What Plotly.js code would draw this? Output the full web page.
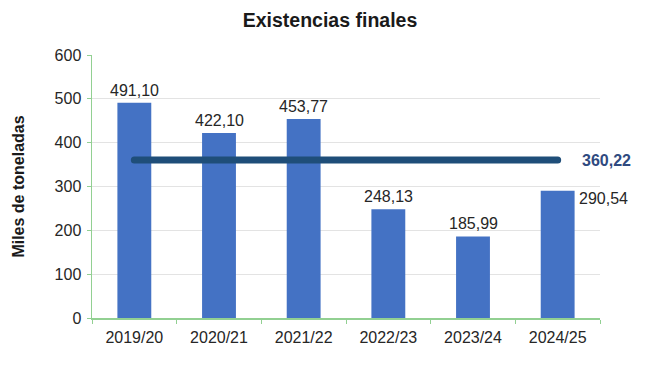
<!DOCTYPE html>
<html>
<head>
<meta charset="utf-8">
<script src="https://cdn.plot.ly/plotly-3.0.1.min.js"></script>
<style>html,body{margin:0;padding:0;background:#fff;}#chart{width:660px;height:365px;}
.scatterlayer .js-line{stroke-linecap:round !important;}</style>
</head>
<body>
<div id="chart"></div>
<script>
var categories = ["2019/20", "2020/21", "2021/22", "2022/23", "2023/24", "2024/25"];
var values = [491.10, 422.10, 453.77, 248.13, 185.99, 290.54];
var average = 360.22;
var yTicks = [0, 100, 200, 300, 400, 500, 600];

function fmt(v) { return v.toFixed(2).replace('.', ','); }

var FONT = 'Liberation Sans, Arial, sans-serif';

var bars = {
  type: 'bar',
  x: categories,
  y: values,
  marker: {color: '#4472c4'},
  width: 0.4,
  hoverinfo: 'x+y'
};

var avgLine = {
  type: 'scatter',
  mode: 'lines',
  x: [categories[0], categories[categories.length - 1]],
  y: [average, average],
  line: {color: '#1f4e79', width: 7},
  hoverinfo: 'y'
};

var annotations = values.map(function (v, i) {
  var last = i === values.length - 1;
  return {
    x: categories[i], y: v, xref: 'x', yref: 'y',
    text: fmt(v), showarrow: false,
    font: {family: FONT, size: 16, color: '#262626'},
    xanchor: last ? 'left' : 'center',
    yanchor: last ? 'middle' : 'bottom',
    xshift: last ? 19 : 0,
    yshift: last ? -8 : 2
  };
});
annotations.push({
  x: categories[categories.length - 1], y: average, xref: 'x', yref: 'y',
  text: '<b>' + fmt(average) + '</b>', showarrow: false,
  font: {family: FONT, size: 16, color: '#2f4a80'},
  xanchor: 'left', yanchor: 'middle', xshift: 22
});

var layout = {
  width: 660, height: 365,
  margin: {l: 92, r: 60, t: 55, b: 47},
  paper_bgcolor: '#ffffff', plot_bgcolor: '#ffffff',
  showlegend: false,
  title: {
    text: '<b>Existencias finales</b>',
    font: {family: FONT, size: 19.5, color: '#1a1a1a'},
    x: 0.5, xanchor: 'center', y: 0.945, yanchor: 'middle'
  },
  xaxis: {
    type: 'category',
    range: [-0.5, categories.length - 0.5],
    showgrid: false,
    showline: true, linecolor: '#92d092', linewidth: 1.5,
    ticks: 'outside', tickson: 'boundaries', ticklen: 4, tickcolor: '#92d092',
    ticklabelstandoff: 4,
    tickfont: {family: FONT, size: 16, color: '#262626'},
    fixedrange: true
  },
  yaxis: {
    range: [0, 600],
    tickvals: yTicks,
    ticktext: yTicks.map(String),
    showgrid: true, gridcolor: '#e3e3e3', gridwidth: 1,
    zeroline: false,
    showline: true, linecolor: '#92d092', linewidth: 1.5,
    ticks: 'outside', ticklen: 4, tickcolor: '#92d092',
    ticklabelstandoff: 2,
    tickfont: {family: FONT, size: 16, color: '#262626'},
    title: {
      text: '<b>Miles de toneladas</b>',
      font: {family: FONT, size: 16, color: '#1a1a1a'},
      standoff: 26
    },
    fixedrange: true
  },
  annotations: annotations
};

Plotly.newPlot('chart', [bars, avgLine], layout, {displayModeBar: false, staticPlot: true});
</script>
</body>
</html>
